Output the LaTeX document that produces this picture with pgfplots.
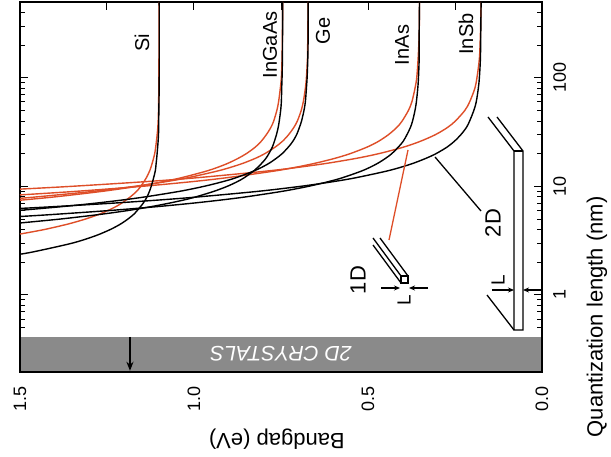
\documentclass[border=0pt]{standalone}
\usepackage{fontspec}
\setmainfont{Liberation Sans}
\usepackage{pgfplots}
\pgfplotsset{compat=1.18}
\usetikzlibrary{arrows.meta}
\definecolor{cred}{RGB}{222,78,40}
\definecolor{band}{RGB}{138,138,138}
\newcommand{\fs}[1]{\fontsize{#1bp}{#1bp}\selectfont}
\begin{document}
\begin{tikzpicture}
\begin{axis}[
  scale only axis, width=522bp, height=370bp,
  xmin=0, xmax=1.5, x dir=reverse,
  ymode=log, ymin=0.195, ymax=500,
  clip=false,
  xtick={0,0.25,0.5,0.75,1,1.25,1.5},
  xticklabels={0.0,,0.5,,1.0,,1.5},
  xtick pos=right, xticklabel pos=left,
  ytick={1,10,100}, yticklabels={1,10,100},
  minor ytick={0.5,0.6,0.7,0.8,0.9,2,3,4,5,6,7,8,9,20,30,40,50,60,70,80,90,200,300,400},
  ytick pos=both, yticklabel pos=right,
  tick align=inside,
  major tick length=8bp, minor tick length=5bp,
  tick style={black, line width=1bp},
  axis line style={line width=1.3bp},
  xticklabel style={rotate=90, anchor=east, inner sep=0pt, font=\fs{18}},
  xticklabel shift=14bp,
  yticklabel style={rotate=90, anchor=north, inner sep=0pt, font=\fs{18}},
  yticklabel shift=11bp,
  xlabel={Bandgap (eV)}, ylabel={Quantization length (nm)},
  every axis x label/.style={at={(axis description cs:0.492,-0.182)}, rotate=180, anchor=center, font=\fs{22}},
  every axis y label/.style={at={(axis description cs:1.105,0.149)}, rotate=90, anchor=center, font=\fs{22}},
]
\coordinate (TL) at (rel axis cs:0,1);
% 2D crystals band
\fill[band] (axis cs:1.5,0.195) rectangle (axis cs:0,0.41);
\draw[line width=1.3bp] (axis cs:1.5,0.41) -- (axis cs:1.5,0.195) -- (axis cs:0,0.195) -- (axis cs:0,0.41);
\node[rotate=180, text=white, font=\itshape\fs{21}] at (axis cs:0.75,0.286) {2D CRYSTALS};
\draw[-{Stealth[length=9bp,width=7bp]}, line width=1.6bp] (axis cs:1.184,0.41) -- (axis cs:1.184,0.2);
% red (1D) curves
\addplot[cred, line width=1.4bp, smooth] coordinates {(1.5,3.64) (1.431,4) (1.362,4.5) (1.312,5) (1.275,5.5) (1.247,6) (1.225,6.5) (1.208,7) (1.183,8) (1.165,9) (1.153,10) (1.137,12) (1.127,14) (1.121,16) (1.113,20) (1.108,26) (1.104,35) (1.102,50) (1.101,100) (1.100,500)};
\addplot[cred, line width=1.4bp, smooth] coordinates {(1.5,7.459) (1.401,8) (1.264,9) (1.165,10) (1.092,11) (1.037,12) (0.959,14) (0.909,16) (0.875,18) (0.850,20) (0.824,23) (0.807,26) (0.792,30) (0.779,35) (0.771,40) (0.762,50) (0.757,60) (0.752,80) (0.749,100) (0.747,150) (0.746,250) (0.745,500)};
\addplot[cred, line width=1.4bp, smooth] coordinates {(1.5,7.771) (1.453,8) (1.289,9) (1.172,10) (1.085,11) (1.019,12) (0.927,14) (0.867,16) (0.826,18) (0.797,20) (0.767,23) (0.746,26) (0.728,30) (0.713,35) (0.703,40) (0.692,50) (0.686,60) (0.680,80) (0.677,100) (0.674,150) (0.673,250) (0.672,500)};
\addplot[cred, line width=1.4bp, smooth] coordinates {(1.5,8.348) (1.340,9) (1.152,10) (1.013,11) (0.908,12) (0.760,14) (0.665,16) (0.599,18) (0.552,20) (0.503,23) (0.470,26) (0.441,30) (0.417,35) (0.402,40) (0.384,50) (0.374,60) (0.365,80) (0.360,100) (0.356,150) (0.353,250) (0.352,500)};
\addplot[cred, line width=1.4bp, smooth] coordinates {(1.5,9.437) (1.355,10) (1.150,11) (0.994,12) (0.777,14) (0.636,16) (0.539,18) (0.470,20) (0.398,23) (0.350,26) (0.306,30) (0.271,35) (0.249,40) (0.222,50) (0.208,60) (0.193,80) (0.187,100) (0.180,150) (0.177,250) (0.175,500)};
% black (2D) curves
\addplot[black, line width=1.4bp, smooth] coordinates {(1.5,2.372) (1.460,2.5) (1.350,3) (1.284,3.5) (1.241,4) (1.211,4.5) (1.190,5) (1.174,5.5) (1.163,6) (1.146,7) (1.135,8) (1.128,9) (1.123,10) (1.116,12) (1.111,14) (1.109,16) (1.106,20) (1.102,30) (1.101,50) (1.100,100) (1.100,500)};
\addplot[black, line width=1.4bp, smooth] coordinates {(1.5,4.603) (1.385,5) (1.274,5.5) (1.189,6) (1.124,6.5) (1.072,7) (1.029,7.5) (0.995,8) (0.943,9) (0.905,10) (0.877,11) (0.856,12) (0.827,14) (0.808,16) (0.794,18) (0.785,20) (0.775,23) (0.769,26) (0.763,30) (0.758,35) (0.755,40) (0.751,50) (0.749,60) (0.748,80) (0.747,100) (0.746,150) (0.745,500)};
\addplot[black, line width=1.4bp, smooth] coordinates {(1.5,6.019) (1.382,6.5) (1.284,7) (1.205,7.5) (1.141,8) (1.042,9) (0.972,10) (0.920,11) (0.880,12) (0.825,14) (0.789,16) (0.765,18) (0.747,20) (0.729,23) (0.716,26) (0.705,30) (0.697,35) (0.691,40) (0.684,50) (0.680,60) (0.677,80) (0.675,100) (0.673,150) (0.672,250) (0.672,500)};
\addplot[black, line width=1.4bp, smooth] coordinates {(1.5,5.28) (1.410,5.5) (1.241,6) (1.109,6.5) (1.005,7) (0.921,7.5) (0.852,8) (0.747,9) (0.672,10) (0.617,11) (0.574,12) (0.515,14) (0.477,16) (0.451,18) (0.432,20) (0.413,23) (0.399,26) (0.388,30) (0.378,35) (0.372,40) (0.365,50) (0.361,60) (0.357,80) (0.355,100) (0.353,150) (0.353,250) (0.352,500)};
\addplot[black, line width=1.4bp, smooth] coordinates {(1.5,6.265) (1.406,6.5) (1.236,7) (1.099,7.5) (0.988,8) (0.817,9) (0.695,10) (0.605,11) (0.536,12) (0.440,14) (0.378,16) (0.336,18) (0.305,20) (0.273,23) (0.252,26) (0.233,30) (0.217,35) (0.208,40) (0.196,50) (0.189,60) (0.183,80) (0.180,100) (0.177,150) (0.176,250) (0.175,500)};
\end{axis}
% annotations in pixel units of the reference (origin top-left)
\begin{scope}[shift={(TL)}, xshift=-20bp, yshift=2bp, x=1bp, y=-1bp, line width=1.3bp]
\node[rotate=90, font=\fs{20}] at (142,43) {Si};
\node[rotate=90, font=\fs{20}] at (270,45) {InGaAs};
\node[rotate=90, font=\fs{20}] at (323,31) {Ge};
\node[rotate=90, font=\fs{20}] at (402,45) {InAs};
\node[rotate=90, font=\fs{20}] at (466,34) {InSb};
% 2D pointer and slab
\draw (435,157) -- (481,211);
\node[rotate=90, font=\fs{22}] at (493,223) {2D};
\draw (488,117) -- (514,151) -- (514,330) -- (523,330) -- (523,151) -- (497,117);
\draw (514,151) -- (523,151);
\draw (487,295) -- (514,330);
\draw[-{Stealth[length=6bp,width=5bp]}] (492,290) -- (514,290);
\draw[-{Stealth[length=6bp,width=5bp]}] (541,290) -- (523,290);
\node[rotate=90, font=\fs{19}] at (498,280) {L};
% 1D pointer and wire
\draw[cred] (408,150) -- (389,240);
\draw (373,238) -- (401,276);
\draw (380,238) -- (408,276);
\draw (373,245) -- (401,283);
\draw[fill=white] (401,276) rectangle (408,283);
\node[rotate=90, font=\fs{22}] at (358,280) {1D};
\draw[-{Stealth[length=6bp,width=5bp]}] (381,288) -- (400,288);
\draw[-{Stealth[length=6bp,width=5bp]}] (428,288) -- (409,288);
\node[rotate=90, font=\fs{19}] at (404,300) {L};
\pgfresetboundingbox
\path[use as bounding box] (0,0) rectangle (611,457);
\end{scope}
\end{tikzpicture}
\end{document}
